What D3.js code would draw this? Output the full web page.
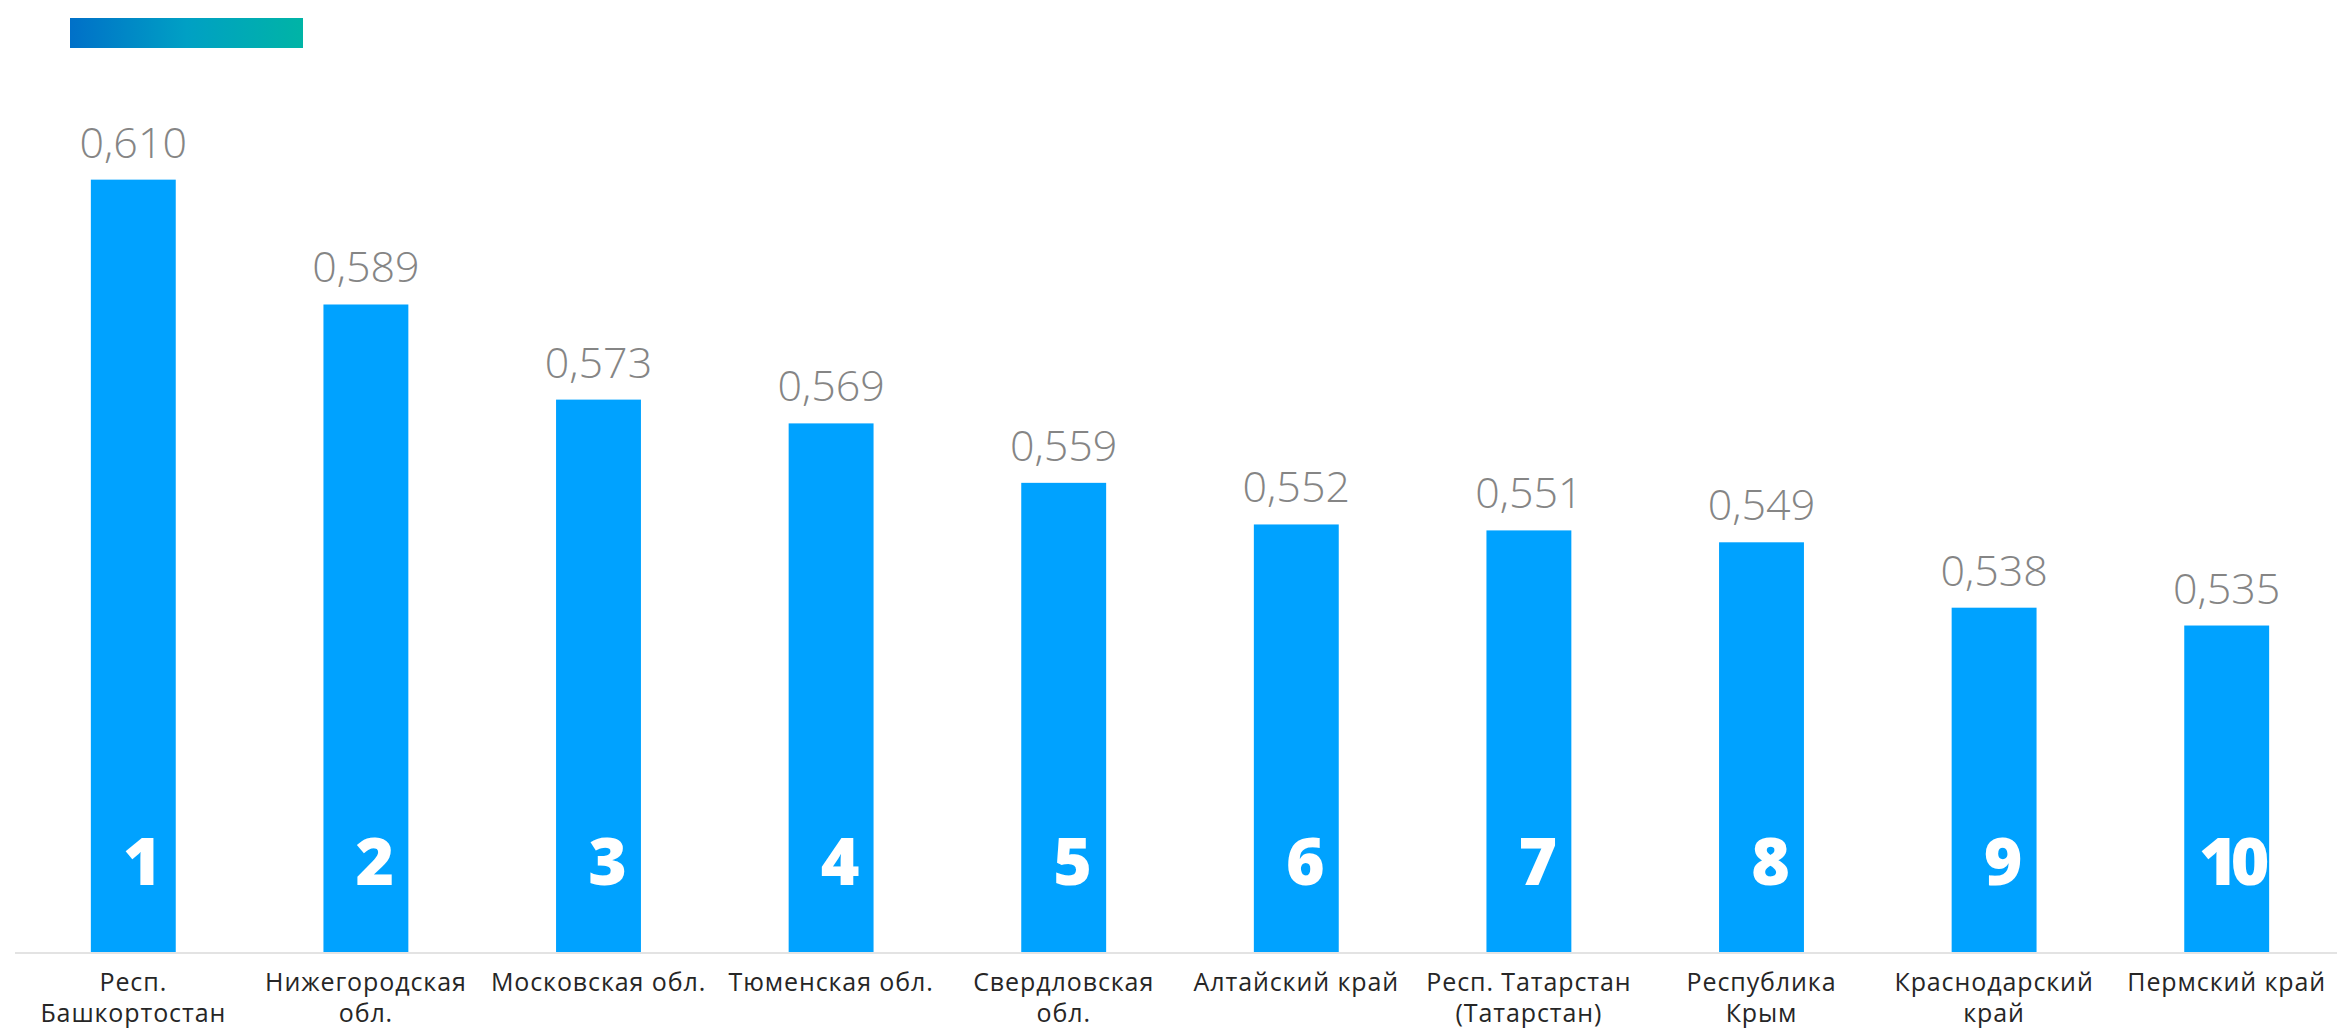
<!DOCTYPE html>
<html>
<head>
<meta charset="utf-8">
<script src="https://cdn.jsdelivr.net/npm/d3@7"></script>
<style>
  html, body { margin: 0; padding: 0; background: #fff; }
  svg { display: block; }
</style>
</head>
<body>
<svg id="chart" width="2337" height="1031"></svg>
<script>
const categories = [
  ["Респ.", "Башкортостан"],
  ["Нижегородская", "обл."],
  ["Московская обл."],
  ["Тюменская обл."],
  ["Свердловская", "обл."],
  ["Алтайский край"],
  ["Респ. Татарстан", "(Татарстан)"],
  ["Республика", "Крым"],
  ["Краснодарский", "край"],
  ["Пермский край"]
];
const values = [0.610, 0.589, 0.573, 0.569, 0.559, 0.552, 0.551, 0.549, 0.538, 0.535];
const valueLabels = ["0,610", "0,589", "0,573", "0,569", "0,559", "0,552", "0,551", "0,549", "0,538", "0,535"];
const ranks = ["1", "2", "3", "4", "5", "6", "7", "8", "9", "10"];
const yDomain = [0.48, 0.62];

const font = "'Open Sans', 'Noto Sans', sans-serif";
const svg = d3.select("#chart");

// gradient header bar
const defs = svg.append("defs");
const grad = defs.append("linearGradient").attr("id", "hdr").attr("x1", "0%").attr("x2", "100%");
grad.append("stop").attr("offset", "0%").attr("stop-color", "#0070C8");
grad.append("stop").attr("offset", "50%").attr("stop-color", "#00A0C4");
grad.append("stop").attr("offset", "100%").attr("stop-color", "#00B4A6");
svg.append("rect").attr("x", 70).attr("y", 18).attr("width", 233).attr("height", 30).attr("fill", "url(#hdr)");

const baseY = 952.5;
const x = d3.scaleBand()
  .domain(d3.range(values.length))
  .range([17, 2343])
  .paddingInner(0.635)
  .paddingOuter(0.3175);
const y = d3.scaleLinear().domain(yDomain).range([baseY, baseY - 0.14 * 5945]);

// bars
svg.append("g").selectAll("rect").data(values).join("rect")
  .attr("x", (d, i) => x(i))
  .attr("y", d => y(d))
  .attr("width", x.bandwidth())
  .attr("height", d => baseY - y(d))
  .attr("fill", "#00A2FF");

// axis line
svg.append("line").attr("x1", 15).attr("x2", 2337).attr("y1", baseY + 0.5).attr("y2", baseY + 0.5)
  .attr("stroke", "#E3E3E3").attr("stroke-width", 2);

// value labels
svg.append("g").selectAll("text").data(values).join("text")
  .attr("x", (d, i) => x(i) + x.bandwidth() / 2)
  .attr("y", d => y(d) - 22)
  .attr("text-anchor", "middle")
  .attr("font-family", font)
  .attr("font-size", 43)
  .attr("font-weight", 300)
  .attr("fill", "#858585")
  .text((d, i) => valueLabels[i]);

// rank numbers
svg.append("g").selectAll("text").data(ranks).join("text")
  .attr("x", (d, i) => x(i) + x.bandwidth() / 2 + (d.length > 1 ? 4 : 9))
  .attr("y", 885)
  .attr("text-anchor", "middle")
  .attr("font-family", font)
  .attr("font-size", 66)
  .attr("font-weight", 800)
  .attr("letter-spacing", d => d.length > 1 ? -7 : 0)
  .attr("fill", "#FFFFFF")
  .text(d => d);

// category labels
const cat = svg.append("g").selectAll("text").data(categories).join("text")
  .attr("x", (d, i) => x(i) + x.bandwidth() / 2)
  .attr("y", 991)
  .attr("text-anchor", "middle")
  .attr("font-family", font)
  .attr("font-size", 25)
  .attr("letter-spacing", 0.9)
  .attr("fill", "#262626");
cat.selectAll("tspan").data(d => d).join("tspan")
  .attr("x", function() { return d3.select(this.parentNode).attr("x"); })
  .attr("dy", (d, j) => j === 0 ? 0 : 31)
  .text(d => d);
</script>
</body>
</html>
